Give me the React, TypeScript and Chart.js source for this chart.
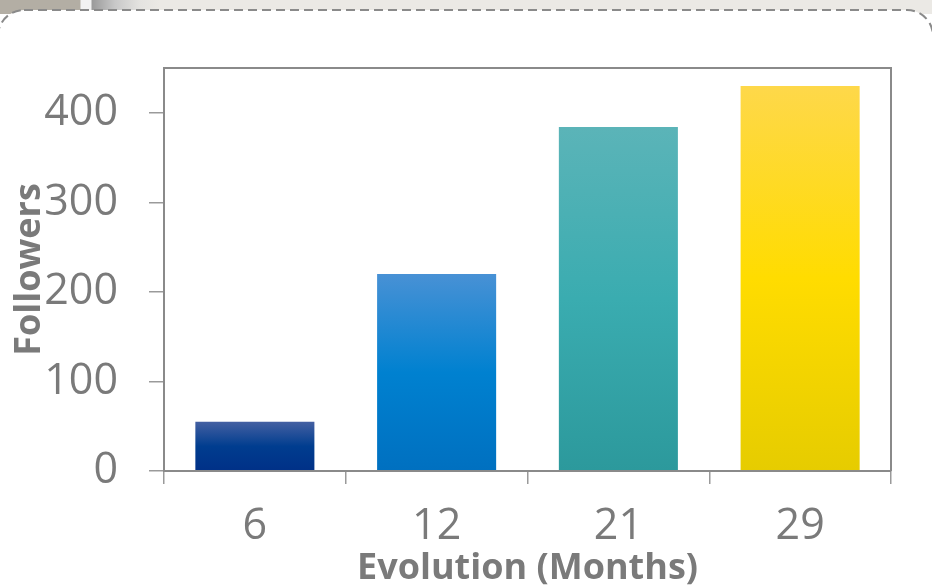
import React, { useEffect, useRef } from "react";
import { Chart, registerables } from "chart.js";

Chart.register(...registerables);

const categories = ["6", "12", "21", "29"];
const followers = [55, 220, 384, 430];
const yMin = 0;
const yMax = 450;
const yStep = 100;
const xTitle = "Evolution (Months)";
const yTitle = "Followers";
// gradient stops per bar (top -> bottom)
const barGradients = [
  ["#4460a2", "#003d8f", "#003087"],
  ["#4891d5", "#0081d0", "#0070c0"],
  ["#5bb4b8", "#3aacb0", "#2c999c"],
  ["#fed84a", "#ffdc00", "#e6cc00"],
];

const GRAY = "#7a7a7a";
const AXIS = "#8a8a8a";

const framePlugin = {
  id: "frame",
  afterDatasetsDraw(chart: any) {
    const { ctx, chartArea } = chart;
    ctx.save();
    ctx.strokeStyle = AXIS;
    ctx.lineWidth = 2;
    ctx.beginPath();
    ctx.moveTo(chartArea.left, chartArea.top);
    ctx.lineTo(chartArea.right, chartArea.top);
    ctx.lineTo(chartArea.right, chartArea.bottom);
    ctx.stroke();
    ctx.restore();
  },
};

export default function App() {
  const ref = useRef<HTMLCanvasElement | null>(null);
  useEffect(() => {
    if (!ref.current) return;
    const chart = new Chart(ref.current, {
      type: "bar",
      data: {
        labels: categories,
        datasets: [
          {
            data: followers,
            backgroundColor: (c: any) => {
              const chart = c.chart;
              const stops = barGradients[c.dataIndex % barGradients.length];
              const ys = chart.scales && chart.scales.y;
              if (!chart.chartArea || !ys || c.raw == null) return stops[1];
              const top = ys.getPixelForValue(c.raw);
              const bottom = ys.getPixelForValue(0);
              const g = chart.ctx.createLinearGradient(0, top, 0, bottom);
              g.addColorStop(0, stops[0]);
              g.addColorStop(0.5, stops[1]);
              g.addColorStop(1, stops[2]);
              return g;
            },
            borderWidth: 0,
            barPercentage: 0.655,
            categoryPercentage: 1,
          },
        ],
      },
      options: {
        animation: false,
        responsive: false,
        maintainAspectRatio: false,
        layout: { padding: { left: 0, top: 68, right: 41, bottom: 0 } },
        plugins: { legend: { display: false }, tooltip: { enabled: false } },
        scales: {
          x: {
            afterFit: (s: any) => {
              s.height = 116;
            },
            grid: {
              display: true,
              drawOnChartArea: false,
              drawTicks: true,
              tickLength: 13,
              color: "#9a9a9a",
              lineWidth: 1.5,
              offset: true,
            },
            border: { display: true, color: AXIS, width: 2, z: 1 },
            ticks: {
              color: GRAY,
              padding: 17,
              font: { family: "'Open Sans'", size: 43 },
            },
            title: {
              display: true,
              text: xTitle,
              color: GRAY,
              padding: { top: 0, bottom: -3 },
              font: { family: "'Open Sans'", size: 36, weight: "bold" },
            },
          },
          y: {
            min: yMin,
            max: yMax,
            afterFit: (s: any) => {
              s.width = 164;
            },
            grid: {
              display: true,
              drawOnChartArea: false,
              drawTicks: true,
              tickLength: 15,
              color: "#9a9a9a",
              lineWidth: 1.5,
            },
            border: { display: true, color: AXIS, width: 2, z: 1 },
            ticks: {
              stepSize: yStep,
              includeBounds: false,
              color: GRAY,
              padding: 31,
              font: { family: "'Open Sans'", size: 43 },
            },
            title: {
              display: true,
              text: yTitle,
              color: GRAY,
              padding: { top: 8, bottom: 0 },
              font: { family: "'Open Sans'", size: 36, weight: "bold" },
            },
          },
        },
      },
      plugins: [framePlugin],
    });
    return () => chart.destroy();
  }, []);

  return (
    <div
      style={{
        position: "absolute",
        left: 0,
        top: 0,
        width: 932,
        height: 587,
        overflow: "hidden",
        background: "#ffffff",
      }}
    >
      <div
        style={{
          position: "absolute",
          left: 0,
          top: 0,
          width: 932,
          height: 14,
          background:
            "linear-gradient(to right, #b3aea4 0px, #b3aea4 80px, #f2f2f2 81px, #f2f2f2 91px, #9a9a9a 92px, #c8c8c8 115px, #e4e3e0 140px, #ebe9e5 160px, #ebe9e5 100%)",
        }}
      />
      <svg
        width={932}
        height={587}
        style={{ position: "absolute", left: 0, top: 0 }}
      >
        <rect
          x={-2}
          y={10}
          width={935}
          height={620}
          rx={26}
          ry={26}
          fill="#ffffff"
          stroke="#8a8a8a"
          strokeWidth={2}
          strokeDasharray="9 5"
        />
      </svg>
      <canvas
        ref={ref}
        width={932}
        height={587}
        style={{ position: "absolute", left: 0, top: 0, width: 932, height: 587 }}
      />
    </div>
  );
}
